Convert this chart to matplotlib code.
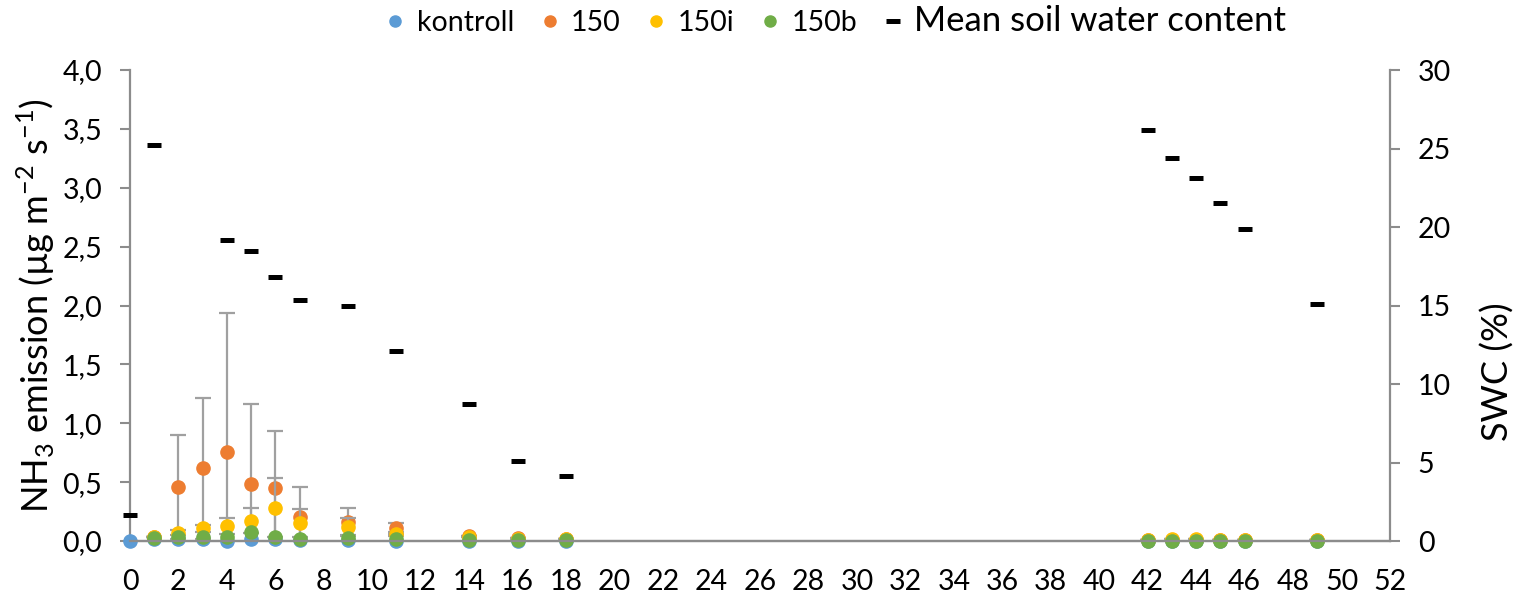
"""NH3 emission per treatment with mean soil water content on a second axis."""

from __future__ import annotations

import matplotlib

matplotlib.use("Agg")
import matplotlib.pyplot as plt  # noqa: E402
import numpy as np  # noqa: E402
from matplotlib.lines import Line2D  # noqa: E402
from matplotlib.ticker import FuncFormatter, MultipleLocator  # noqa: E402

nan = np.nan

# days after application with emission measurements
days = [0, 1, 2, 3, 4, 5, 6, 7, 9, 11, 14, 16, 18, 42, 43, 44, 45, 46, 49]
kontroll = [0.0, 0.02, 0.02, 0.02, 0.0, 0.015, 0.02, 0.01, 0.01, 0.0,
            0.0, 0.0, 0.0, 0.0, 0.0, 0.0, 0.0, 0.0, 0.0]
t150 = [nan, 0.03, 0.46, 0.617, 0.753, 0.48, 0.447, 0.2, 0.164, 0.108,
        0.04, 0.025, 0.02, 0.005, 0.005, 0.01, 0.005, 0.005, 0.005]
t150_err = [nan, 0.0, 0.44, 0.597, 1.187, 0.683, 0.49, 0.256, 0.114, 0.048,
            0.0, 0.0, 0.0, 0.0, 0.0, 0.0, 0.0, 0.0, 0.0]
t150i = [nan, 0.03, 0.07, 0.108, 0.127, 0.173, 0.283, 0.156, 0.12, 0.06,
         0.035, 0.02, 0.015, 0.005, 0.015, 0.015, 0.005, 0.005, 0.005]
t150i_err = [nan, 0.0, 0.02, 0.03, 0.066, 0.105, 0.25, 0.12, 0.075, 0.02,
             0.0, 0.0, 0.0, 0.0, 0.0, 0.0, 0.0, 0.0, 0.0]
t150b = [nan, 0.025, 0.03, 0.03, 0.03, 0.08, 0.03, 0.02, 0.025, 0.015,
         0.01, 0.005, 0.005, 0.0, 0.0, 0.0, 0.0, 0.0, 0.0]

# mean soil water content (%)
swc_days = [0, 1, 4, 5, 6, 7, 9, 11, 14, 16, 18, 42, 43, 44, 45, 46, 49]
swc = [1.65, 25.25, 19.15, 18.5, 16.8, 15.35, 14.95, 12.1, 8.7, 5.1, 4.15,
       26.2, 24.4, 23.1, 21.5, 19.85, 15.1]

BLUE = "#5B9BD5"
ORANGE = "#ED7D31"
YELLOW = "#FFC000"
GREEN = "#70AD47"
AXIS_GRAY = "#8C8C8C"
ERR_GRAY = "#A0A0A0"
FONT = "Lato"


def _comma(value: float, _pos: int) -> str:
    return f"{value:.1f}".replace(".", ",")


def main() -> int:
    plt.rcParams.update(
        {
            "font.family": [FONT, "DejaVu Sans"],
            "mathtext.fontset": "custom",
            "mathtext.rm": FONT,
            "axes.unicode_minus": False,
        }
    )
    fig = plt.figure(figsize=(15.18, 6.03), dpi=100)
    ax = fig.add_axes([0.0856, 0.1028, 0.8301, 0.7811])
    ax2 = ax.twinx()

    dot = {"marker": "o", "markersize": 9.5, "linestyle": "none", "clip_on": False}
    ax.plot(days, kontroll, color=BLUE, zorder=3, **dot)
    ax.errorbar(days, t150, yerr=t150_err, fmt="none", ecolor=ERR_GRAY,
                elinewidth=1.6, capsize=6, capthick=1.6, zorder=3)
    ax.plot(days, t150, color=ORANGE, zorder=3, **dot)
    ax.errorbar(days, t150i, yerr=t150i_err, fmt="none", ecolor=ERR_GRAY,
                elinewidth=1.6, capsize=6, capthick=1.6, zorder=3)
    ax.plot(days, t150i, color=YELLOW, zorder=3, **dot)
    ax.plot(days, t150b, color=GREEN, zorder=3, **dot)

    ax2.plot(swc_days, swc, linestyle="none", marker="_", markersize=10,
             markeredgewidth=3.6, color="black", clip_on=False)

    ax.set_xlim(0, 52)
    ax.set_ylim(0, 4.0)
    ax2.set_ylim(0, 30)
    ax.xaxis.set_major_locator(MultipleLocator(2))
    ax.yaxis.set_major_locator(MultipleLocator(0.5))
    ax.yaxis.set_major_formatter(FuncFormatter(_comma))
    ax2.yaxis.set_major_locator(MultipleLocator(5))

    for a in (ax, ax2):
        a.spines["top"].set_visible(False)
        for side in ("left", "right", "bottom"):
            a.spines[side].set_color(AXIS_GRAY)
            a.spines[side].set_linewidth(1.6)
    ax.spines["right"].set_visible(False)
    ax2.spines["left"].set_visible(False)

    ax.tick_params(axis="x", length=0, pad=20, labelsize=20.5)
    ax.tick_params(axis="y", direction="out", length=7, width=1.5,
                   color=AXIS_GRAY, pad=13, labelsize=20.5)
    ax2.tick_params(axis="y", direction="out", length=7, width=1.5,
                    color=AXIS_GRAY, pad=13, labelsize=20.5)

    ax.set_ylabel(r"NH$_\mathregular{3}$ emission (µg m$^\mathregular{-2}$ s$^\mathregular{-1}$)",
                  fontsize=26)
    ax.yaxis.set_label_coords(-0.058, 0.5)
    ax2.set_ylabel("SWC (%)", fontsize=26)
    ax2.yaxis.set_label_coords(1.072, 0.36)

    handles = [
        Line2D([], [], marker="o", linestyle="none", markersize=8, color=c)
        for c in (BLUE, ORANGE, YELLOW, GREEN)
    ]
    handles.append(Line2D([], [], marker="_", linestyle="none", markersize=10,
                          markeredgewidth=3.6, color="black"))
    labels = ["kontroll", "150", "150i", "150b", "Mean soil water content"]
    leg = fig.legend(handles, labels, ncol=5, loc="upper center",
                     bbox_to_anchor=(0.551, 1.035), frameon=False, fontsize=20.5,
                     handlelength=0.6, handletextpad=0.45, columnspacing=0.95)
    leg.get_texts()[4].set_fontsize(25)

    fig.savefig("out.png", dpi=100)
    plt.close(fig)
    return 0


if __name__ == "__main__":
    raise SystemExit(main())
